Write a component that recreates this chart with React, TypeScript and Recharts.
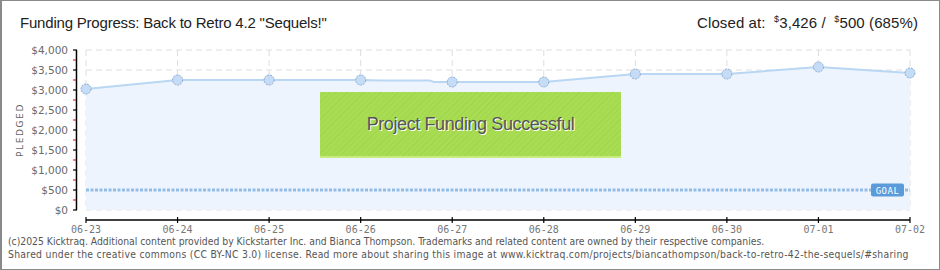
import React from 'react';
import {
  ComposedChart,
  Area,
  XAxis,
  YAxis,
  CartesianGrid,
  ReferenceLine,
} from 'recharts';

// daily closing pledges
const DAYS = ['06-23', '06-24', '06-25', '06-26', '06-27', '06-28', '06-29', '06-30', '07-01', '07-02'];
const PLEDGED = [3025, 3250, 3250, 3250, 3200, 3200, 3400, 3400, 3575, 3426];
// in-between readings (day offset, amount) where the line is not straight
const EXTRA_DAY = [3.22, 3.75, 3.8];
const EXTRA_PLEDGED = [3240, 3240, 3200];

const GOAL = 500;
const Y_TICKS = [0, 250, 500, 750, 1000, 1250, 1500, 1750, 2000, 2250, 2500, 2750, 3000, 3250, 3500, 3750, 4000];
const Y_GRID = [0, 500, 1000, 1500, 2000, 2500, 3000, 3500, 4000];
const X_TICKS = DAYS.map((_, i) => i);

const points = [
  ...PLEDGED.map((v, i) => ({ day: i, v, marker: true })),
  ...EXTRA_DAY.map((d, i) => ({ day: d, v: EXTRA_PLEDGED[i], marker: false })),
].sort((a, b) => a.day - b.day);

const fmtMoney = (v: number) => '$' + v.toLocaleString('en-US');

const HEAD_FONT = '"Liberation Sans", sans-serif';

const YTick = (props: any) => {
  const { x, y, payload } = props;
  const major = payload.value % 500 === 0;
  if (!major) {
    return <line x1={x - 13} x2={x - 10} y1={y} y2={y} stroke="#e00000" strokeWidth={1} />;
  }
  return (
    <g>
      <line x1={x - 13} x2={x - 9} y1={y} y2={y} stroke="#000" strokeWidth={1.2} />
      <text
        x={x - 18}
        y={y}
        textAnchor="end"
        dominantBaseline="central"
        fill="#6a6a6a"
        fontSize={10.5}
        fontFamily="DejaVu Sans"
      >
        {fmtMoney(payload.value)}
      </text>
    </g>
  );
};

const XTick = (props: any) => {
  const { x, y, payload } = props;
  return (
    <g>
      <line x1={x} x2={x} y1={y + 7} y2={y + 13} stroke="#000" strokeWidth={1.2} />
      <text
        x={x}
        y={y + 19}
        textAnchor="middle"
        dominantBaseline="central"
        fill="#777"
        fontSize={10}
        fontFamily="DejaVu Sans Mono"
      >
        {DAYS[payload.value]}
      </text>
    </g>
  );
};

const GoalLabel = (props: any) => {
  const vb = props.viewBox;
  if (!vb) return null;
  const right = vb.x + vb.width - 6;
  return (
    <g>
      <rect x={right - 33} y={vb.y - 6.5} width={33} height={13} rx={2} fill="#5b9bd9" />
      <text
        x={right - 16.5}
        y={vb.y + 0.5}
        textAnchor="middle"
        dominantBaseline="central"
        fill="#fff"
        fontSize={9}
        fontFamily="DejaVu Sans Mono"
        letterSpacing={0.5}
      >
        GOAL
      </text>
    </g>
  );
};

const Dot = (props: any) => {
  const { cx, cy, payload, index } = props;
  if (!payload || !payload.marker) return <g key={index} />;
  return (
    <circle
      key={index}
      cx={cx}
      cy={cy}
      r={5}
      fill="#c4dcf6"
      stroke="#8eaad0"
      strokeWidth={1}
      strokeDasharray="2 1"
    />
  );
};

export default function App() {
  return (
    <div style={{ position: 'relative', width: 940, height: 270, background: '#fff', overflow: 'hidden' }}>
      <style>{'body{margin:0}'}</style>

      <div
        style={{
          position: 'absolute',
          left: 20,
          top: 14,
          fontFamily: HEAD_FONT,
          fontSize: 15,
          letterSpacing: -0.2,
          color: '#222',
          whiteSpace: 'nowrap',
        }}
      >
        Funding Progress: Back to Retro 4.2 "Sequels!"
      </div>
      <div
        style={{
          position: 'absolute',
          right: 22,
          top: 14,
          fontFamily: HEAD_FONT,
          fontSize: 15,
          letterSpacing: 0.1,
          color: '#222',
          whiteSpace: 'nowrap',
        }}
      >
        Closed at:&nbsp; <sup style={{ fontSize: 9 }}>$</sup>3,426 /&nbsp; <sup style={{ fontSize: 9 }}>$</sup>500 (685%)
      </div>

      <div
        style={{
          position: 'absolute',
          left: 20,
          top: 130,
          transform: 'translate(-50%, -50%) rotate(-90deg)',
          fontFamily: 'DejaVu Sans',
          fontSize: 9,
          letterSpacing: 1.6,
          color: '#666',
          whiteSpace: 'nowrap',
        }}
      >
        PLEDGED
      </div>

      <ComposedChart
        width={940}
        height={270}
        data={points}
        margin={{ top: 50, right: 30, bottom: 30, left: 0 }}
        style={{ position: 'absolute', left: 0, top: 0 }}
      >
        <CartesianGrid
          stroke="#dedede"
          strokeDasharray="6 4"
          horizontalValues={Y_GRID}
          verticalValues={X_TICKS}
        />
        <XAxis
          dataKey="day"
          type="number"
          domain={[0, DAYS.length - 1]}
          ticks={X_TICKS}
          interval={0}
          height={30}
          axisLine={false}
          tickLine={false}
          tickSize={0}
          tickMargin={0}
          tick={<XTick />}
        />
        <YAxis
          type="number"
          domain={[0, 4000]}
          ticks={Y_TICKS}
          interval={0}
          width={86}
          axisLine={false}
          tickLine={false}
          tickSize={0}
          tickMargin={0}
          tick={<YTick />}
        />
        <Area
          type="linear"
          dataKey="v"
          stroke="#b9d6f3"
          strokeWidth={2}
          fill="#edf4fd"
          fillOpacity={1}
          dot={Dot}
          activeDot={false}
          isAnimationActive={false}
        />
        <ReferenceLine
          y={GOAL}
          stroke="#93bce6"
          strokeWidth={3}
          strokeDasharray="3 1.5"
          label={<GoalLabel />}
        />
        {/* axes sit a little away from the plot, as in the original */}
        <ReferenceLine y={-250} stroke="#000" strokeWidth={1.5} ifOverflow="visible" />
        <ReferenceLine x={-0.104} stroke="#000" strokeWidth={1.5} ifOverflow="visible" />
      </ComposedChart>

      <div
        style={{
          position: 'absolute',
          left: 320,
          top: 92,
          width: 301,
          height: 66,
          boxSizing: 'border-box',
          background:
            'repeating-linear-gradient(135deg, #a8dc52 0px, #a8dc52 3px, #a2d64d 3px, #a2d64d 4px)',
          borderBottom: '2px solid #c4ec80',
          display: 'flex',
          alignItems: 'center',
          justifyContent: 'center',
          fontFamily: HEAD_FONT,
          fontSize: 18,
          letterSpacing: -0.4,
          color: '#555',
          textShadow: '1px 1px 0 #fff',
        }}
      >
        Project Funding Successful
      </div>

      <div
        style={{
          position: 'absolute',
          left: 8,
          top: 235,
          fontFamily: '"DejaVu Sans Condensed", "DejaVu Sans", sans-serif',
          fontSize: 10.3,
          lineHeight: '13px',
          color: '#555',
          whiteSpace: 'nowrap',
        }}
      >
        <div>
          (c)2025 Kicktraq. Additional content provided by Kickstarter Inc. and Bianca Thompson. Trademarks and related content are owned by their respective companies.
        </div>
        <div style={{ letterSpacing: 0.28 }}>
          Shared under the creative commons (CC BY-NC 3.0) license. Read more about sharing this image at www.kicktraq.com/projects/biancathompson/back-to-retro-42-the-sequels/#sharing
        </div>
      </div>

      <div
        style={{
          position: 'absolute',
          left: 0,
          top: 0,
          width: 940,
          height: 270,
          boxSizing: 'border-box',
          border: '1px solid #8a8a8a',
          borderLeft: '2px solid #8a8a8a',
          pointerEvents: 'none',
        }}
      />
    </div>
  );
}
